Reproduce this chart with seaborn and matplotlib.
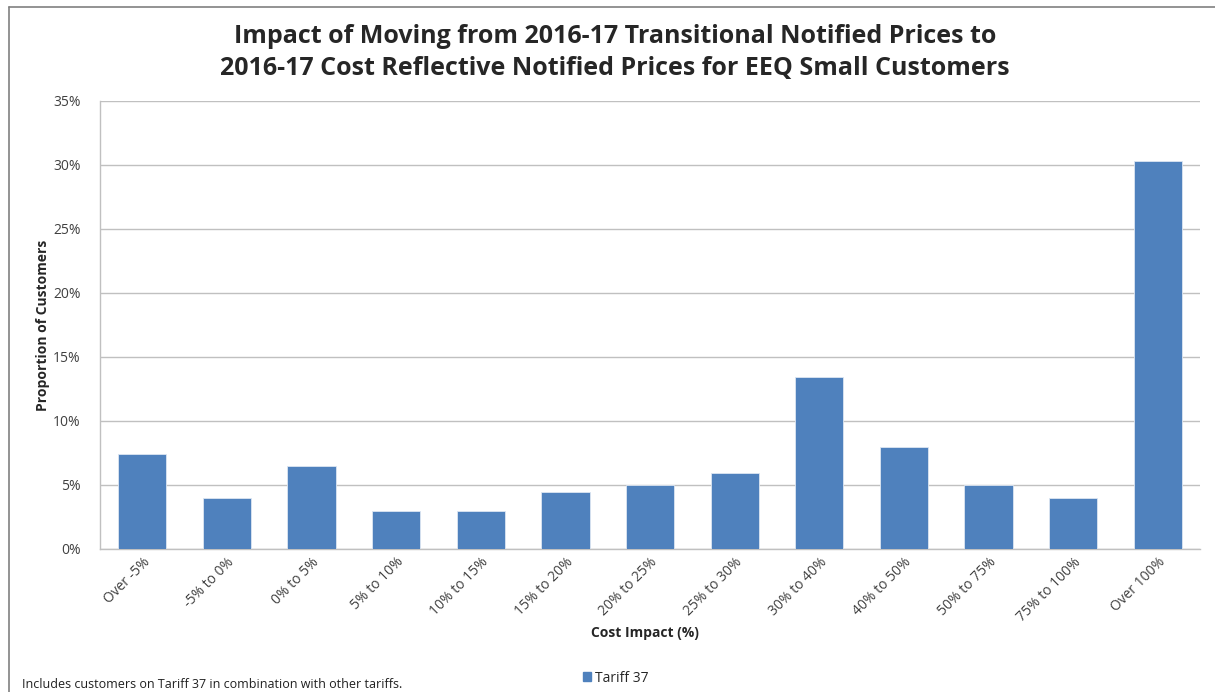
import pandas as pd
import matplotlib
matplotlib.use("Agg")
import matplotlib.pyplot as plt
import seaborn as sns
from matplotlib.lines import Line2D
from matplotlib.patches import Rectangle
from matplotlib.ticker import FuncFormatter, MultipleLocator

CATEGORIES = ["Over -5%", "-5% to 0%", "0% to 5%", "5% to 10%", "10% to 15%",
              "15% to 20%", "20% to 25%", "25% to 30%", "30% to 40%",
              "40% to 50%", "50% to 75%", "75% to 100%", "Over 100%"]
SHARE = [7.4, 4.0, 6.5, 3.0, 3.0, 4.45, 5.0, 5.95, 13.45, 8.0, 5.0, 3.95, 30.35]

BAR_COLOR = "#4F81BD"
GRID_COLOR = "#C0C0C0"

sns.set_theme(style="white")
plt.rcParams["font.family"] = ["Open Sans", "DejaVu Sans"]

df = pd.DataFrame({"cat": CATEGORIES, "share": SHARE})

fig = plt.figure(figsize=(12.15, 6.92), dpi=100)
ax = fig.add_axes([100 / 1215, 1 - 549 / 692, 1100 / 1215, 448 / 692])

sns.barplot(data=df, x="cat", y="share", order=CATEGORIES, color=BAR_COLOR,
            saturation=1, width=0.57, ax=ax, edgecolor="#DCE6F2", linewidth=0.6,
            zorder=3)

ax.set_ylim(0, 35)
ax.set_xlim(-0.5, len(CATEGORIES) - 0.5)
ax.yaxis.set_major_locator(MultipleLocator(5))
ax.yaxis.set_major_formatter(FuncFormatter(lambda v, p: f"{v:.0f}%"))
ax.grid(axis="y", color=GRID_COLOR, linewidth=1, zorder=0)
for s in ["top", "right"]:
    ax.spines[s].set_visible(False)
for s in ["left", "bottom"]:
    ax.spines[s].set_color(GRID_COLOR)
    ax.spines[s].set_linewidth(1)

ax.tick_params(axis="y", labelsize=10, colors="#404040", length=0, pad=14)
ax.tick_params(axis="x", labelsize=10, colors="#404040", length=0, pad=4)
plt.setp(ax.get_xticklabels(), rotation=45, ha="right", rotation_mode="anchor")

ax.set_xlabel("Cost Impact (%)", fontsize=10, fontweight="bold", labelpad=1)
ax.set_ylabel("Proportion of Customers", fontsize=10, fontweight="bold", labelpad=2)
ax.xaxis.label.set_position((0.495, 0))

fig.text(0.506, 0.947, "Impact of Moving from 2016-17 Transitional Notified Prices to",
         ha="center", va="center", fontsize=18, fontweight="bold")
fig.text(0.506, 0.901, "2016-17 Cost Reflective Notified Prices for EEQ Small Customers",
         ha="center", va="center", fontsize=18, fontweight="bold")

fig.text(22 / 1215, 1 - 684 / 692, "Includes customers on Tariff 37 in combination with other tariffs.",
         ha="left", va="center", fontsize=9, color="#202020")

# legend
handle = Rectangle((0, 0), 1, 1, color=BAR_COLOR)
fig.legend([handle], ["Tariff 37"], loc="center left",
           bbox_to_anchor=(570 / 1215, 1 - 678 / 692), frameon=False,
           fontsize=10, handlelength=0.6, handleheight=0.6, handletextpad=0.3)

# chart frame
fig.add_artist(Line2D([9 / 1215, 9 / 1215], [0, 1 - 7 / 692],
                      transform=fig.transFigure, color="#808080", linewidth=1.2))
fig.add_artist(Line2D([9 / 1215, 1], [1 - 7 / 692, 1 - 7 / 692],
                      transform=fig.transFigure, color="#808080", linewidth=1.2))

fig.savefig("out.png", dpi=100)
